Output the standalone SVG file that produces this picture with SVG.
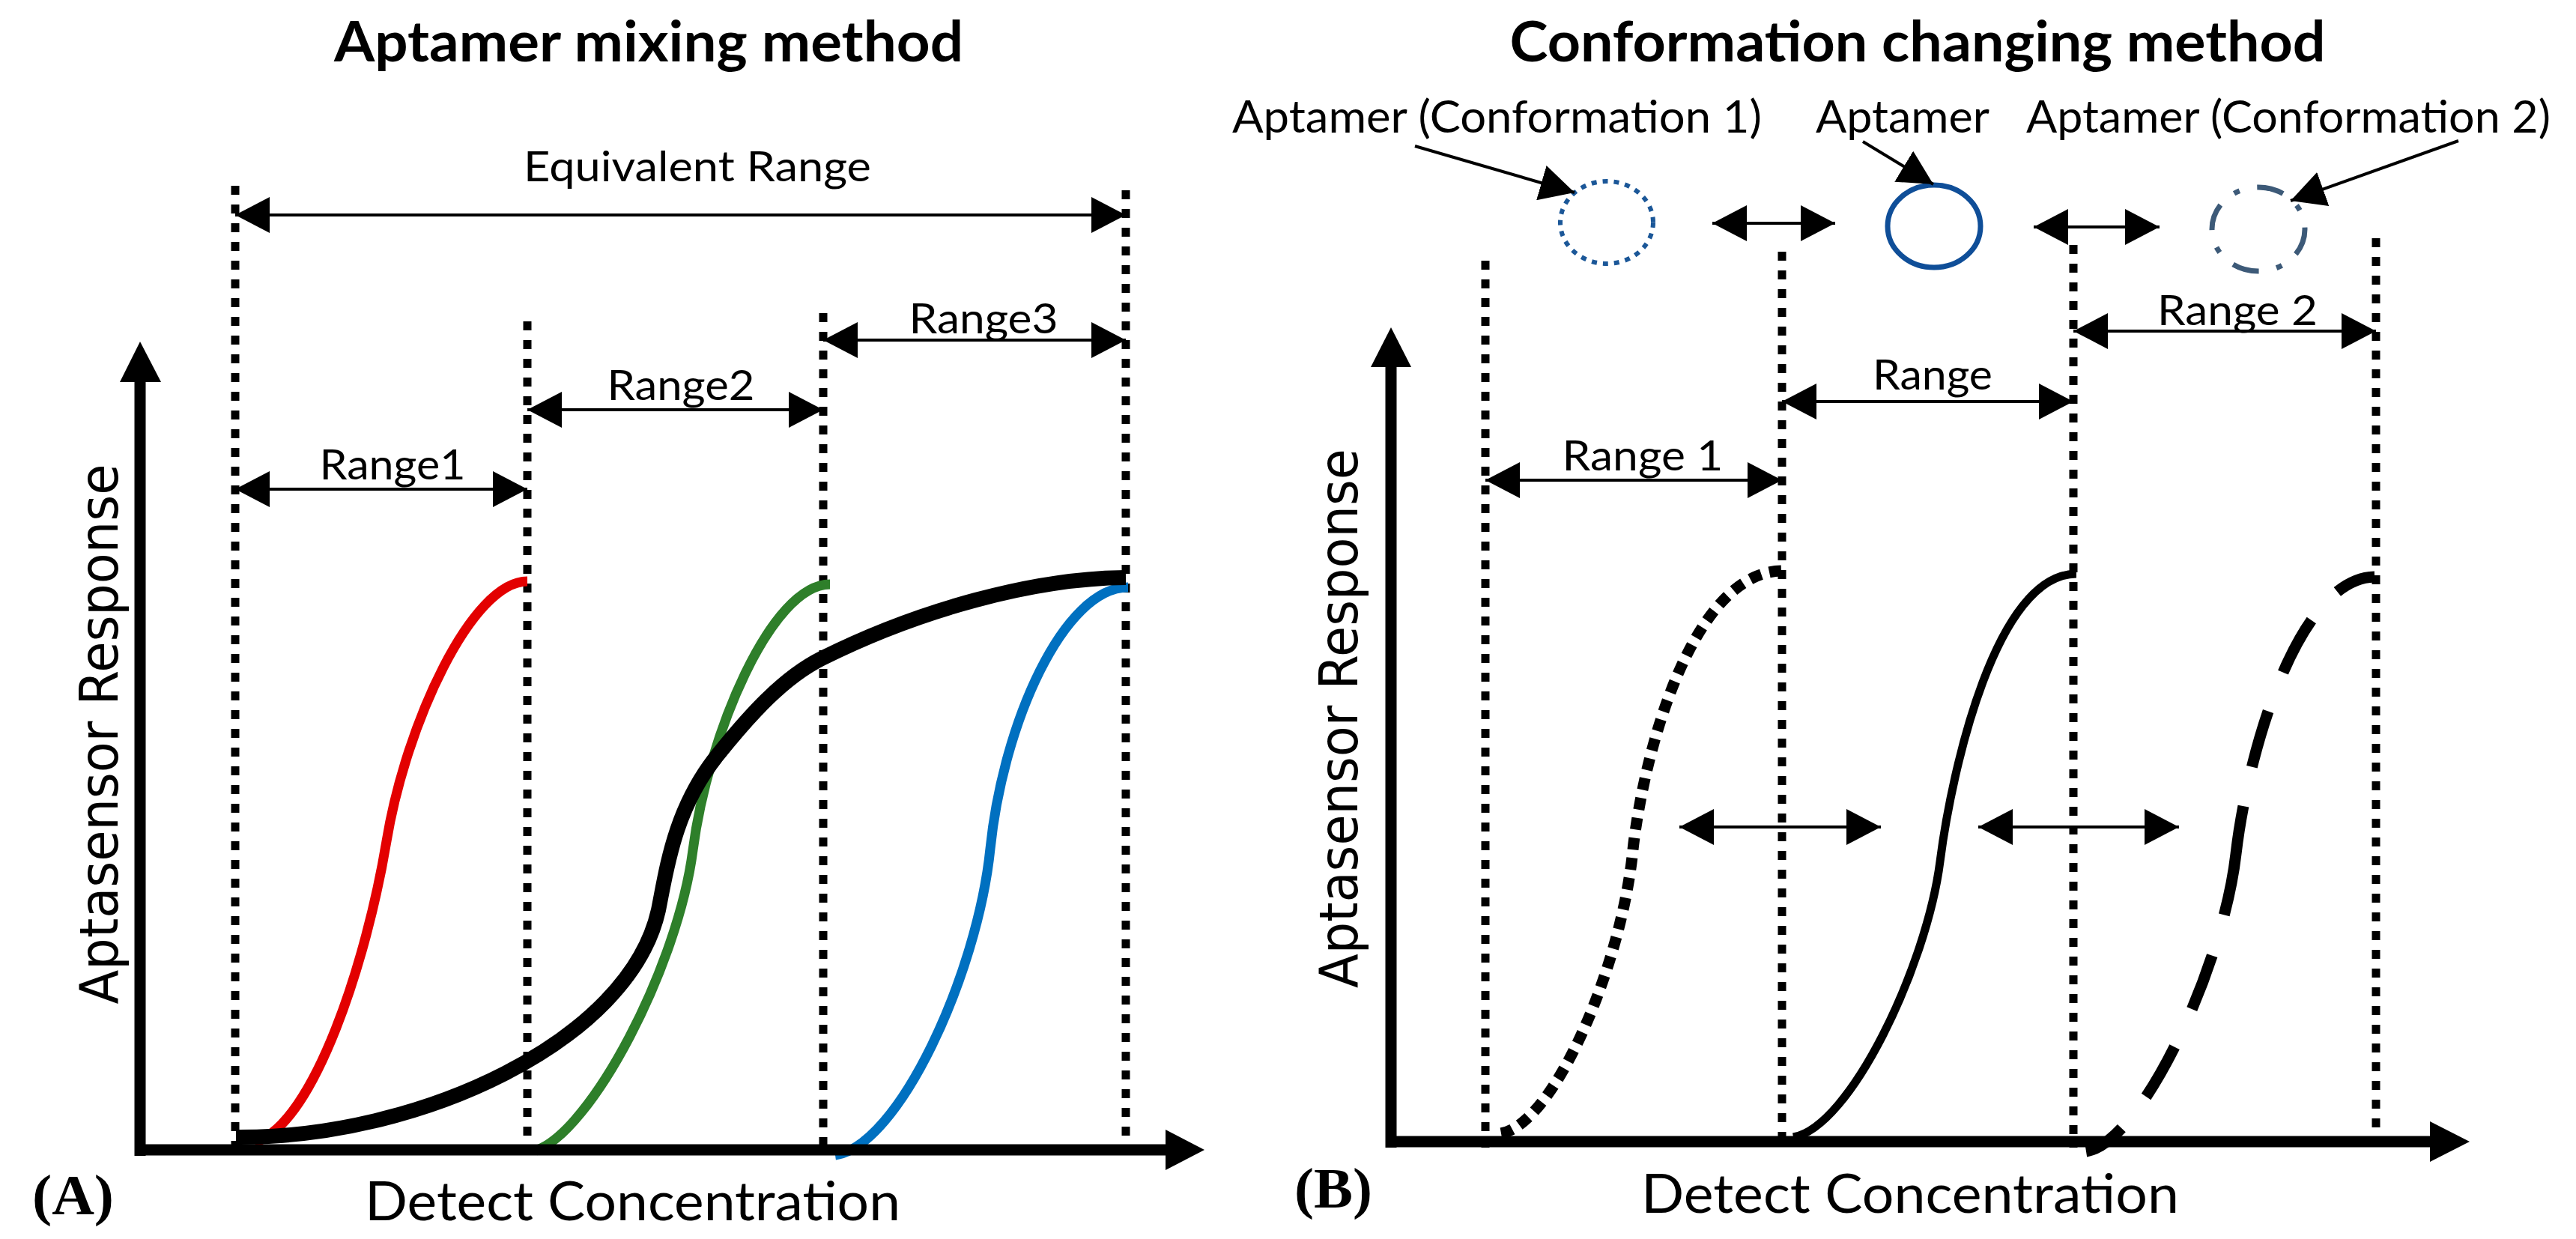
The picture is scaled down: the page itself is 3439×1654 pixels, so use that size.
<svg xmlns="http://www.w3.org/2000/svg" width="3439" height="1654" viewBox="0 0 3439 1654">
<style>
.title{font-family:Lato,"Open Sans","Liberation Sans",sans-serif;font-weight:bold;font-size:75px;fill:#000}
.lbl{font-family:Lato,"Open Sans","Liberation Sans",sans-serif;font-size:56px;fill:#000}
.top{font-family:Lato,"Open Sans","Liberation Sans",sans-serif;font-size:60px;fill:#000}
.xl{font-family:Lato,"Open Sans","Liberation Sans",sans-serif;font-size:72px;fill:#000}
.yl{font-family:"DejaVu Sans","Liberation Sans",sans-serif;font-size:72px;fill:#000}
.pl{font-family:"Liberation Serif","Times New Roman",serif;font-weight:bold;font-size:76px;fill:#000}
.dot{stroke:#000;stroke-width:11;stroke-dasharray:12 13;fill:none}
.rng{stroke:#000;stroke-width:4;fill:none;marker-start:url(#ah);marker-end:url(#ah)}
.ptr{stroke:#000;stroke-width:4;fill:none;marker-end:url(#ah)}
.axis{stroke:#000;stroke-width:15;fill:none}
.crv{fill:none;stroke-linecap:butt}
</style>
<defs>
<marker id="ah" markerUnits="userSpaceOnUse" markerWidth="46" markerHeight="48" refX="46" refY="24" orient="auto-start-reverse" viewBox="0 0 46 48">
<path d="M0,0 L46,24 L0,48 z" fill="#000"/>
</marker>
</defs>
<rect width="3439" height="1654" fill="#fff"/>

<!-- Panel A -->
<g id="panel-a">
<text class="title" x="866" y="82" text-anchor="middle" textLength="840" lengthAdjust="spacingAndGlyphs">Aptamer mixing method</text>
<g id="a-guides">
<line class="dot" x1="314" y1="248" x2="314" y2="1542"/>
<line class="dot" x1="704" y1="429" x2="704" y2="1542"/>
<line class="dot" x1="1099" y1="418" x2="1099" y2="1542"/>
<line class="dot" x1="1503" y1="254" x2="1503" y2="1542"/>
</g>
<g id="a-curves">
<path class="crv" d="M340,1525 C420,1500 490,1280 516,1123 C542,966 630,776 704,776" stroke="#e30000" stroke-width="13"/>
<path class="crv" d="M715,1536 C790,1510 905,1290 925,1135 C945,980 1030,780 1108,780" stroke="#2e7f2a" stroke-width="13"/>
<path class="crv" d="M1115,1542 C1200,1530 1305,1300 1322,1133 C1339,966 1420,784 1506,784" stroke="#0070c0" stroke-width="13"/>
<path class="crv" d="M315,1518 C560,1520 840,1390 879,1215 C890,1160 900,1080 958,1008 C1003,952 1047,904 1097,879 C1227,814 1380,772 1503,771" stroke="#000" stroke-width="20"/>
</g>
<g id="a-axes">
<line class="axis" x1="187" y1="1543" x2="187" y2="505"/>
<polygon points="160,510 187,456 215,510" fill="#000"/>
<line class="axis" x1="180" y1="1535" x2="1560" y2="1535" stroke-width="16"/>
<polygon points="1556,1508 1608,1535 1556,1562" fill="#000"/>
</g>
<text class="lbl" x="931" y="242" text-anchor="middle" textLength="464" lengthAdjust="spacingAndGlyphs">Equivalent Range</text>
<text class="lbl" x="524" y="640" text-anchor="middle" textLength="195" lengthAdjust="spacingAndGlyphs">Range1</text>
<text class="lbl" x="909" y="534" text-anchor="middle" textLength="197" lengthAdjust="spacingAndGlyphs">Range2</text>
<text class="lbl" x="1313" y="445" text-anchor="middle" textLength="199" lengthAdjust="spacingAndGlyphs">Range3</text>
<text class="yl" transform="translate(157,980) rotate(-90)" text-anchor="middle" textLength="721" lengthAdjust="spacingAndGlyphs">Aptasensor Response</text>
<text class="xl" x="487" y="1629" textLength="715" lengthAdjust="spacingAndGlyphs">Detect Concentration</text>
<text class="pl" x="43" y="1621" textLength="109" lengthAdjust="spacingAndGlyphs">(A)</text>
</g>

<!-- Panel B -->
<g id="panel-b">
<text class="title" x="2560" y="82" text-anchor="middle" textLength="1089" lengthAdjust="spacingAndGlyphs">Conformation changing method</text>
<text class="top" x="1645" y="177" textLength="707" lengthAdjust="spacingAndGlyphs">Aptamer (Conformation 1)</text>
<text class="top" x="2424" y="177" textLength="232" lengthAdjust="spacingAndGlyphs">Aptamer</text>
<text class="top" x="2705" y="177" textLength="700" lengthAdjust="spacingAndGlyphs">Aptamer (Conformation 2)</text>
<g id="conf1"><ellipse cx="2145" cy="297" rx="62" ry="55" fill="none" stroke="#1b5798" stroke-width="6" stroke-dasharray="7 8"/></g>
<g id="aptamer"><ellipse cx="2582" cy="302" rx="62" ry="55" fill="none" stroke="#0f4e98" stroke-width="7"/></g>
<g id="conf2"><ellipse cx="3015" cy="306" rx="62" ry="56" fill="none" stroke="#3d5a78" stroke-width="7" stroke-dasharray="36 24 8 24"/></g>
<g id="b-guides">
<line class="dot" x1="1983" y1="348" x2="1983" y2="1532"/>
<line class="dot" x1="2379" y1="336" x2="2379" y2="1532"/>
<line class="dot" x1="2768" y1="327" x2="2768" y2="1532"/>
<line class="dot" x1="3172" y1="318" x2="3172" y2="1532"/>
</g>
<g id="b-curves">
<path class="crv" d="M2004,1513 C2075,1500 2165,1290 2180,1134 C2195,1000 2260,765 2378,762" stroke="#000" stroke-width="15" stroke-dasharray="16 11"/>
<path class="crv" d="M2394,1518 C2470,1505 2572,1290 2590,1150 C2606,1025 2665,766 2772,766" stroke="#000" stroke-width="11"/>
<path class="crv" d="M2785,1537 C2860,1525 2968,1290 2985,1140 C3002,995 3070,772 3170,770" stroke="#000" stroke-width="15" pathLength="903" stroke-dasharray="58 54 77 56 77 57 149 54 78 56 80 52 60"/>
</g>
<g id="b-axes">
<line class="axis" x1="1857" y1="1532" x2="1857" y2="485"/>
<polygon points="1830,490 1857,437 1884,490" fill="#000"/>
<line class="axis" x1="1850" y1="1524" x2="3250" y2="1524" stroke-width="16"/>
<polygon points="3244,1497 3297,1524 3244,1551" fill="#000"/>
</g>
<text class="lbl" x="2193" y="628" text-anchor="middle" textLength="215" lengthAdjust="spacingAndGlyphs">Range 1</text>
<text class="lbl" x="2580" y="520" text-anchor="middle" textLength="160" lengthAdjust="spacingAndGlyphs">Range</text>
<text class="lbl" x="2987" y="434" text-anchor="middle" textLength="214" lengthAdjust="spacingAndGlyphs">Range 2</text>
<text class="yl" transform="translate(1812,959) rotate(-90)" text-anchor="middle" textLength="720" lengthAdjust="spacingAndGlyphs">Aptasensor Response</text>
<text class="xl" x="2191" y="1619" textLength="718" lengthAdjust="spacingAndGlyphs">Detect Concentration</text>
<text class="pl" x="1728" y="1612" textLength="104" lengthAdjust="spacingAndGlyphs">(B)</text>
</g>

<!-- Connectors -->
<g id="connectors">
<line class="rng" x1="314" y1="287" x2="1503" y2="287"/>
<line class="rng" x1="1099" y1="454" x2="1503" y2="454"/>
<line class="rng" x1="704" y1="547" x2="1099" y2="547"/>
<line class="rng" x1="314" y1="653" x2="704" y2="653"/>
<line class="rng" x1="1983" y1="641" x2="2379" y2="641"/>
<line class="rng" x1="2379" y1="536" x2="2768" y2="536"/>
<line class="rng" x1="2768" y1="442" x2="3172" y2="442"/>
<line class="rng" x1="2286" y1="298" x2="2450" y2="298"/>
<line class="rng" x1="2715" y1="303" x2="2883" y2="303"/>
<line class="rng" x1="2242" y1="1104" x2="2511" y2="1104"/>
<line class="rng" x1="2641" y1="1104" x2="2909" y2="1104"/>
<line class="ptr" x1="1889" y1="195" x2="2102" y2="257"/>
<line class="ptr" x1="2487" y1="189" x2="2581" y2="246"/>
<line class="ptr" x1="3282" y1="188" x2="3058" y2="268"/>
</g>
</svg>
